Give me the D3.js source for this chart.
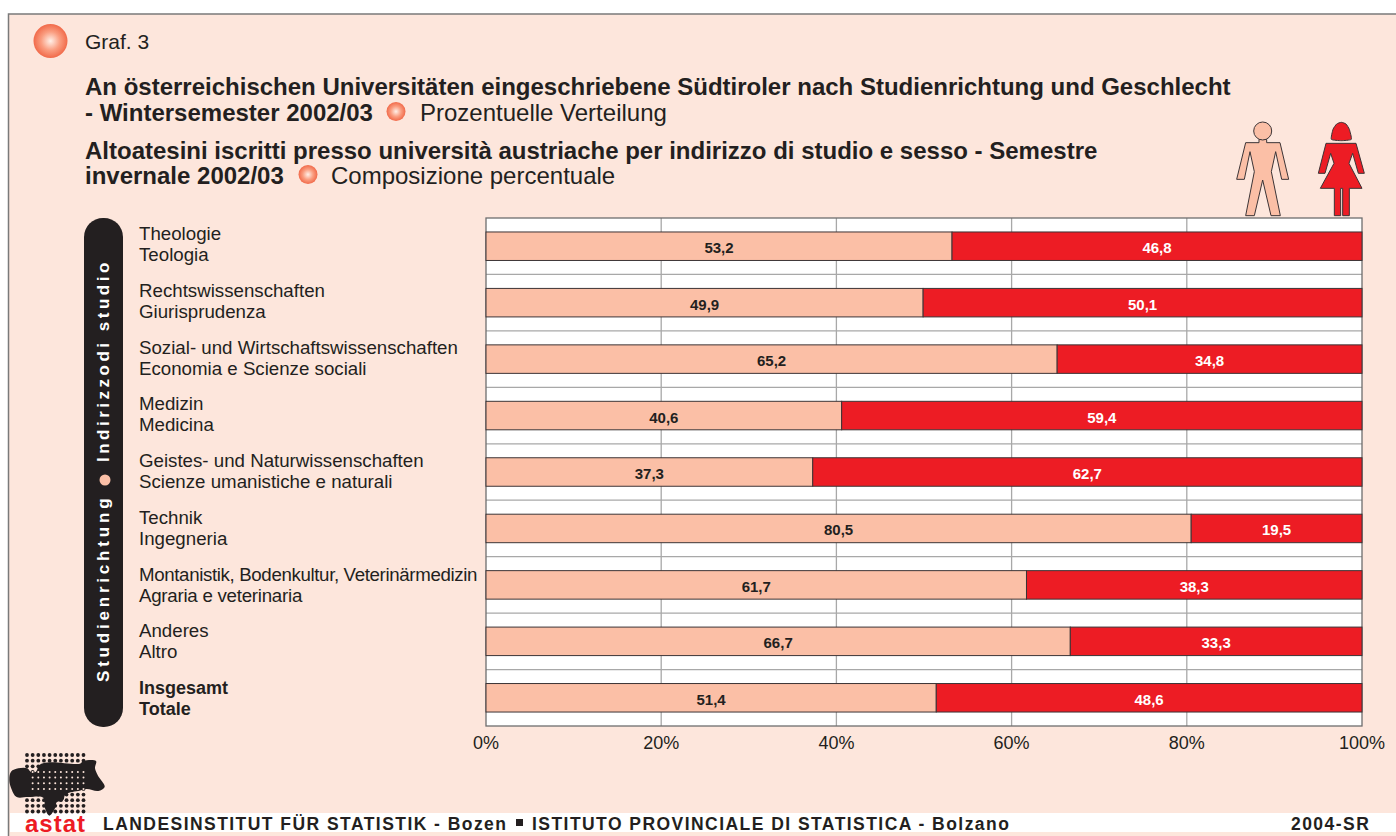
<!DOCTYPE html>
<html><head><meta charset="utf-8">
<script src="https://cdnjs.cloudflare.com/ajax/libs/d3/7.8.5/d3.min.js"></script>
<style>html,body{margin:0;padding:0;background:#fff}svg{display:block}text{font-family:"Liberation Sans",Arial,sans-serif;fill:#231f20}</style>
</head><body><div id="c"></div>
<script>
const categoriesDe=["Theologie","Rechtswissenschaften","Sozial- und Wirtschaftswissenschaften","Medizin","Geistes- und Naturwissenschaften","Technik","Montanistik, Bodenkultur, Veterinärmedizin","Anderes","Insgesamt"];
const categoriesIt=["Teologia","Giurisprudenza","Economia e Scienze sociali","Medicina","Scienze umanistiche e naturali","Ingegneria","Agraria e veterinaria","Altro","Totale"];
const maleValues=[53.2,49.9,65.2,40.6,37.3,80.5,61.7,66.7,51.4];
const femaleValues=[46.8,50.1,34.8,59.4,62.7,19.5,38.3,33.3,48.6];
const xTicks=[0,20,40,60,80,100];
const titleLines=[
 {x:85,y:95,bold:"An österreichischen Universitäten eingeschriebene Südtiroler nach Studienrichtung und Geschlecht"},
 {x:85,y:121,bold:"- Wintersemester 2002/03",plain:"Prozentuelle Verteilung",px:420,dot:396},
 {x:85,y:159,bold:"Altoatesini iscritti presso università austriache per indirizzo di studio e sesso - Semestre"},
 {x:85,y:184,bold:"invernale 2002/03",plain:"Composizione percentuale",px:331,dot:308}];
const W=1396,H=836,peach="#fde6dc",maleC="#fbbfa6",femC="#ed1c24",ink="#231f20";
const svg=d3.select("#c").append("svg").attr("width",W).attr("height",H);
const defs=svg.append("defs");
const g=defs.append("radialGradient").attr("id","ball");
g.append("stop").attr("offset","0%").attr("stop-color","#fff0e8");
g.append("stop").attr("offset","55%").attr("stop-color","#fa9d80");
g.append("stop").attr("offset","100%").attr("stop-color","#f16a4a");
// frame
svg.append("rect").attr("x",8.5).attr("y",14).attr("width",W).attr("height",H).attr("fill",peach).attr("stroke","#7a7a7a").attr("stroke-width",1.5);
svg.append("rect").attr("x",10).attr("y",813).attr("width",W-10).attr("height",19).attr("fill","#fff");
// header
svg.append("circle").attr("cx",50.5).attr("cy",41).attr("r",17).attr("fill","url(#ball)");
svg.append("text").attr("x",85).attr("y",49).attr("font-size",21).text("Graf. 3");
titleLines.forEach(t=>{
 svg.append("text").attr("x",t.x).attr("y",t.y).attr("font-size",24).attr("font-weight","bold").text(t.bold);
 if(t.plain){
  svg.append("circle").attr("cx",t.dot).attr("cy",t.y-9.5).attr("r",9.5).attr("fill","url(#ball)");
  svg.append("text").attr("x",t.px).attr("y",t.y).attr("font-size",24).text(t.plain);
 }
});
// scales
const m={l:486,r:1362,t:218,b:726};
const x=d3.scaleLinear().domain([0,100]).range([m.l,m.r]);
const y=d3.scaleBand().domain(d3.range(categoriesDe.length)).range([m.t,m.b]);
const labelY=d3.scaleLinear().domain([0,categoriesDe.length-1]).range([240,694]);
const bh=28.5;
// plot
svg.append("rect").attr("x",m.l).attr("y",m.t).attr("width",m.r-m.l).attr("height",m.b-m.t).attr("fill","#fff");
const gridColor="#a8a8a8";
svg.append("g").selectAll("line").data(xTicks.slice(1,-1)).join("line")
 .attr("x1",d=>x(d)).attr("x2",d=>x(d)).attr("y1",m.t).attr("y2",m.b).attr("stroke",gridColor).attr("stroke-width",1.3);
svg.append("g").selectAll("line").data(d3.range(1,categoriesDe.length)).join("line")
 .attr("x1",m.l).attr("x2",m.r).attr("y1",d=>y(d)).attr("y2",d=>y(d)).attr("stroke",gridColor).attr("stroke-width",1.2);
svg.append("rect").attr("x",m.l).attr("y",m.t).attr("width",m.r-m.l).attr("height",m.b-m.t).attr("fill","none").attr("stroke","#6e6e6e").attr("stroke-width",1.3);
const cy=i=>y(i)+y.bandwidth()/2;
const rows=svg.append("g").selectAll("g").data(d3.range(maleValues.length)).join("g");
rows.append("rect").attr("x",x(0)).attr("y",i=>cy(i)-bh/2).attr("width",i=>x(maleValues[i])-x(0)).attr("height",bh)
 .attr("fill",maleC).attr("stroke","#3c3436").attr("stroke-width",1);
rows.append("rect").attr("x",i=>x(maleValues[i])).attr("y",i=>cy(i)-bh/2).attr("width",i=>x(100)-x(maleValues[i])).attr("height",bh)
 .attr("fill",femC).attr("stroke","#3c3436").attr("stroke-width",1);
const fmt=v=>v.toFixed(1).replace(".",",");
rows.append("text").attr("x",i=>x(maleValues[i]/2)).attr("y",i=>cy(i)+7).attr("text-anchor","middle").attr("font-size",15).attr("font-weight","bold").text(i=>fmt(maleValues[i]));
rows.append("text").attr("x",i=>x(maleValues[i]+femaleValues[i]/2)).attr("y",i=>cy(i)+7).attr("text-anchor","middle").attr("font-size",15).attr("font-weight","bold").style("fill","#fff").text(i=>fmt(femaleValues[i]));
// x axis
const ax=svg.append("g").attr("transform",`translate(0,${m.b})`).call(d3.axisBottom(x).tickValues(xTicks).tickSize(0).tickPadding(10).tickFormat(d=>d+"%"));
ax.select(".domain").remove();
ax.selectAll("text").attr("font-size",18).attr("dx",-0.5).style("font-family",'"Liberation Sans",Arial,sans-serif').style("fill",ink);
// category labels
const labs=svg.append("g").selectAll("g").data(d3.range(categoriesDe.length)).join("g");
const last=categoriesDe.length-1, condensedRow=6;
const labSize=i=>i==last?18:18.7;
labs.append("text").attr("x",139).attr("y",i=>labelY(i)).attr("font-size",labSize).attr("font-weight",i=>i==last?"bold":null).attr("letter-spacing",i=>i==condensedRow?-0.36:null).text(i=>categoriesDe[i]);
labs.append("text").attr("x",139).attr("y",i=>labelY(i)+21).attr("font-size",labSize).attr("font-weight",i=>i==last?"bold":null).attr("letter-spacing",i=>i==condensedRow?-0.25:null).text(i=>categoriesIt[i]);
// side pill
svg.append("rect").attr("x",84).attr("y",218).attr("width",39).attr("height",509).attr("rx",19).attr("fill",ink);
[["Studienrichtung",682,3.8],["Indirizzodi studio",462,3.5]].forEach(([s,yy,ls])=>{
 svg.append("text").attr("transform",`translate(108.5,${yy}) rotate(-90)`).attr("font-size",17).attr("font-weight","bold").attr("letter-spacing",ls).style("fill","#fff").text(s);
});
svg.append("circle").attr("cx",105).attr("cy",480).attr("r",5.5).attr("fill",maleC);
// pictograms
const zp=(pts)=>pts.map(p=>[1200+p[0]/3,100+p[1]/3]);
const line=d3.line();
const man=[[177,118],[177,128],[137,128],[110,238],[133,238],[150,155],[163,215],[137,347],[163,347],[188,240],[213,347],[241,347],[214,215],[227,155],[245,238],[266,238],[240,128],[200,128],[200,118]];
svg.append("path").attr("d",line(zp(man))+"Z").attr("fill",maleC).attr("stroke","#3c3436").attr("stroke-width",1);
svg.append("circle").attr("cx",1262.7).attr("cy",131).attr("r",9).attr("fill",maleC).attr("stroke","#3c3436").attr("stroke-width",1);
const woman=[[378,130],[355,220],[375,220],[392,160],[402,190],[361,265],[403,265],[403,347],[422,347],[422,265],[428,265],[428,347],[448,347],[448,265],[486,265],[447,190],[458,160],[475,220],[493,220],[468,130]];
svg.append("path").attr("d",line(zp(woman))+"Z").attr("fill",femC).attr("stroke","#3c3436").attr("stroke-width",1);
const hair=[[394,118],[399,88],[410,72],[424,67],[438,72],[448,88],[454,118],[424,122]];
svg.append("path").attr("d",d3.line().curve(d3.curveCardinalClosed.tension(0.5))(zp(hair))).attr("fill",femC).attr("stroke","#3c3436").attr("stroke-width",1);
// logo
const lg=svg.append("g");
const lp=pts=>pts.map(p=>[p[0]/3,745+p[1]/3]);
const blob=[[28,105],[33,80],[55,70],[82,70],[92,80],[108,80],[118,60],[150,52],[240,56],[250,48],[288,48],[285,70],[294,92],[314,125],[295,138],[260,132],[235,138],[212,142],[195,150],[190,165],[170,172],[165,190],[148,212],[135,190],[130,158],[85,156],[50,156],[33,128]];
const gx=d3.range(0,11).map(i=>27+i*5.65), gy=d3.range(0,11).map(i=>755+i*5.65);
gx.forEach(a=>gy.forEach(b=>lg.append("circle").attr("cx",a).attr("cy",b).attr("r",1.9).attr("fill",ink)));
lg.append("path").attr("d",d3.line().curve(d3.curveCatmullRomClosed.alpha(0.5))(lp(blob))).attr("fill",ink);
gx.slice(1).forEach(a=>gy.slice(2,7).forEach(b=>{if(a>30&&a<84&&b>768&&b<790)lg.append("circle").attr("cx",a).attr("cy",b).attr("r",1).attr("fill",peach);}));
svg.append("text").attr("x",25).attr("y",832).attr("font-size",24).attr("font-weight","bold").attr("letter-spacing",1).style("fill",femC).text("astat");
// footer
const footerSize=17.5, footerLs=1.45;
[["LANDESINSTITUT FÜR STATISTIK - Bozen",103],["ISTITUTO PROVINCIALE DI STATISTICA - Bolzano",532],["2004-SR",1291]].forEach(([s,fx])=>{
 svg.append("text").attr("x",fx).attr("y",830).attr("font-size",footerSize).attr("font-weight","bold").attr("letter-spacing",footerLs).text(s);
});
svg.append("rect").attr("x",516).attr("y",819).attr("width",7).attr("height",7).attr("fill",ink);
</script></body></html>
